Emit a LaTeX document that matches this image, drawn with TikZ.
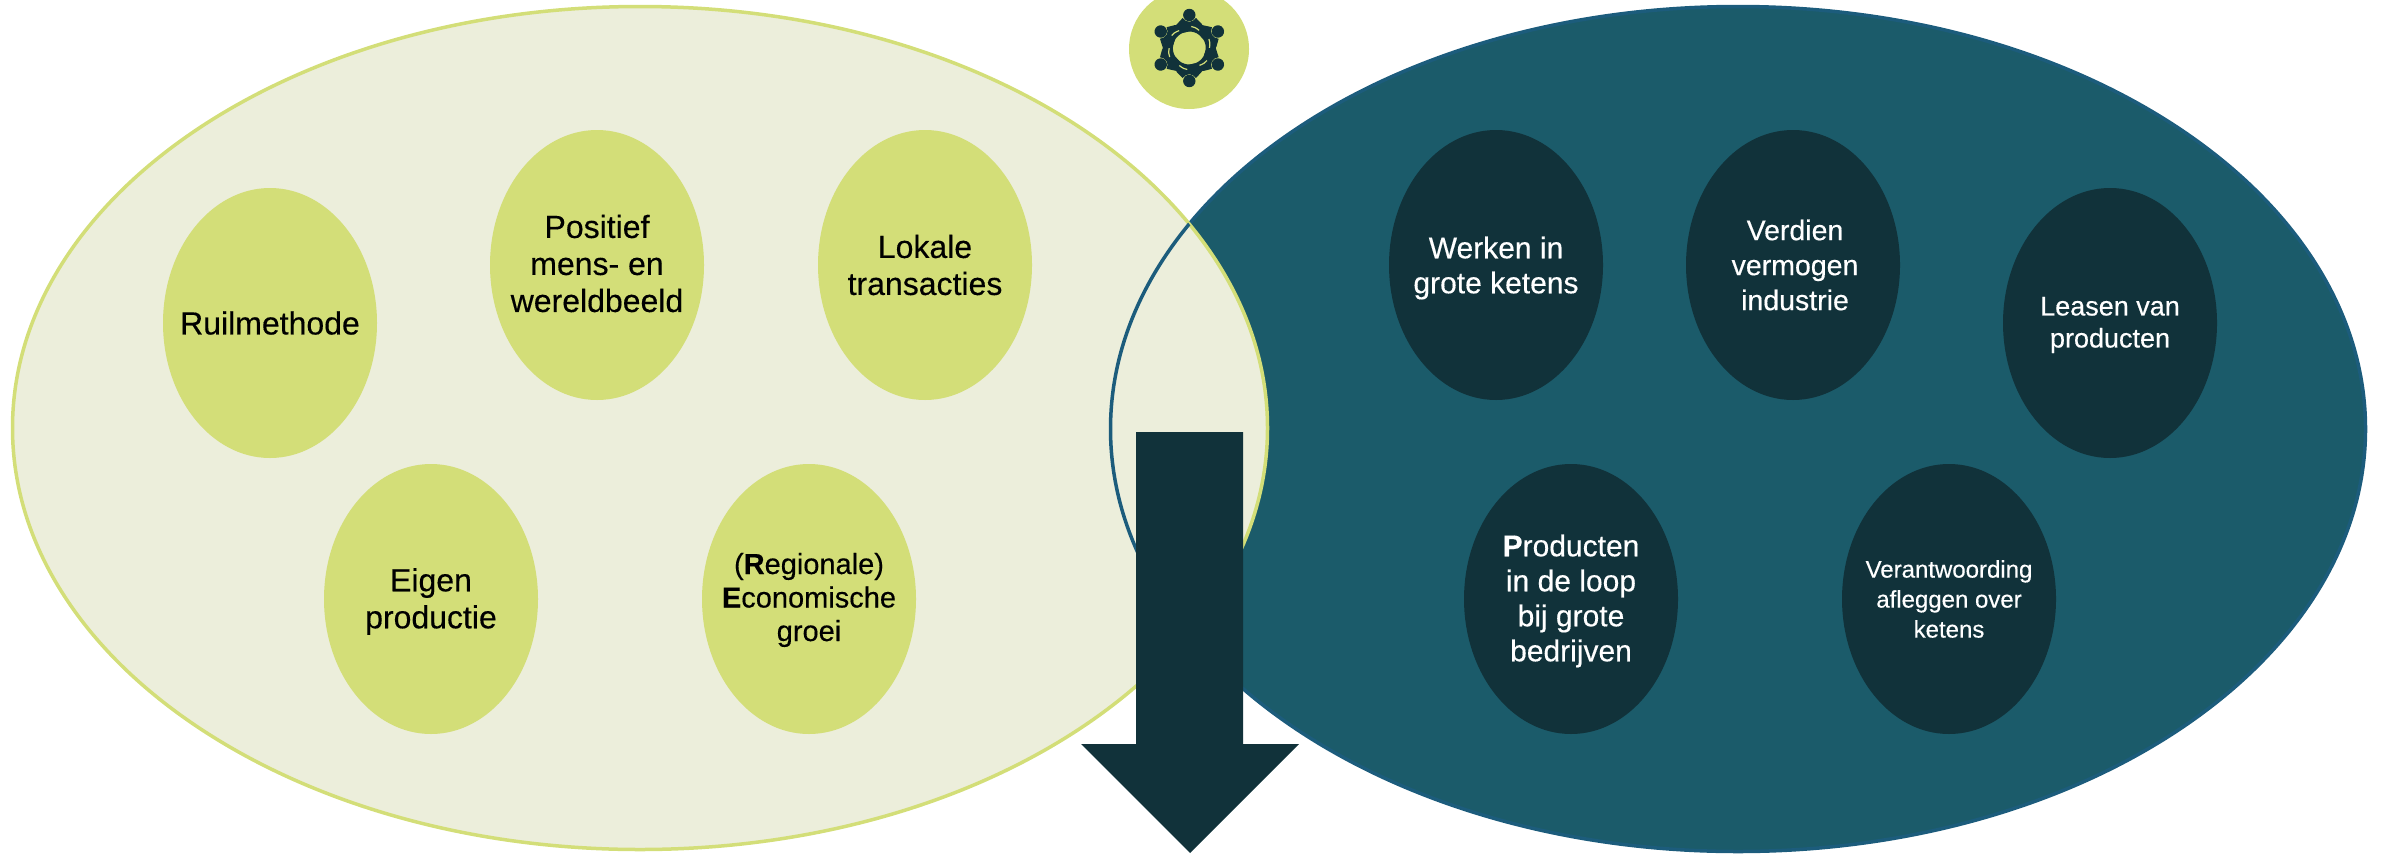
\documentclass[tikz,border=0pt]{standalone}
\usepackage{fontspec}
\setmainfont{Liberation Sans}
\newfontfamily\hvy{Liberation Sans}[FakeBold=0.35]
\definecolor{lime}{HTML}{D3DE78}
\definecolor{pale}{HTML}{ECEEDB}
\definecolor{teal}{HTML}{1B5B6A}
\definecolor{tealedge}{HTML}{1C5C7C}
\definecolor{deep}{HTML}{11323A}
\usetikzlibrary{shapes.geometric}
\tikzset{
  x=1pt,y=-1pt,
  bub/.style={ellipse,minimum width=214pt,minimum height=270pt,inner sep=0pt},
  limebub/.style={bub,fill=lime},
  deepbub/.style={bub,fill=deep},
  lbl/.style={align=center,inner sep=0pt},
  limelbl/.style={lbl,text=black},
  deeplbl/.style={lbl,text=white},
  t32/.style={font=\hvy\fontsize{32}{37}\selectfont},
  t30/.style={font=\hvy\fontsize{30}{35}\selectfont},
  t29/.style={font=\hvy\fontsize{29}{33.5}\selectfont},
  t28/.style={font=\hvy\fontsize{28.5}{35}\selectfont},
  t27/.style={font=\hvy\fontsize{27}{32}\selectfont},
  t24/.style={font=\hvy\fontsize{24}{30}\selectfont},
  big/.style={ellipse,inner sep=0pt,line width=3.5pt},
}
\begin{document}
\begin{tikzpicture}
\useasboundingbox (0,0) rectangle (2389,857);
\clip (0,0) rectangle (2389,857);
% large ellipses
\node[big,draw=tealedge,fill=teal,minimum width=1255pt,minimum height=845pt] (right) at (1738,429) {};
\node[big,draw=lime,fill=pale,minimum width=1255pt,minimum height=843pt] (left) at (640,428) {};
\begin{scope}
\clip (640,428) ellipse [x radius=627.5,y radius=421.5];
\node[big,draw=tealedge,minimum width=1255pt,minimum height=845pt] (rightline) at (1738,429) {};
\end{scope}
% emblem
\node[circle,fill=lime,minimum size=120pt,inner sep=0pt] (emblem) at (1189,49) {};
\foreach \a in {0,60,...,300}{
  \begin{scope}[shift={(1189.3,48)},rotate=\a]
    \fill[deep] (0,-33) circle (6.2);
    \fill[deep] (-6.7,-30) .. controls (-3,-25) and (3,-25) .. (6.7,-30)
      -- (12.3,-24.3) -- (18,-14) -- (15,-8) -- (10,-13)
      .. controls (7,-15.5) and (3,-16.5) .. (0,-16.5)
      -- (-8,-15) -- (-14,-22) -- cycle;
    \draw[lime,line width=1.2pt] (2,-21.5) .. controls (4,-21.5) and (7,-20) .. (10,-17.5);
  \end{scope}
}
% bubbles
\node[limebub] (a1) at (270,323) {};
\node[limebub] (a2) at (597,265) {};
\node[limebub] (a3) at (925,265) {};
\node[limebub] (a4) at (431,599) {};
\node[limebub] (a5) at (809,599) {};
\node[deepbub] (b1) at (1496,265) {};
\node[deepbub] (b2) at (1793,265) {};
\node[deepbub] (b3) at (2110,323) {};
\node[deepbub] (b4) at (1571,599) {};
\node[deepbub] (b5) at (1949,599) {};
% labels
\node[limelbl,t32] (a1t) at (a1) {Ruilmethode};
\node[limelbl,t32] (a2t) at ([yshift=1.5pt]a2) {Positief\\mens- en\\wereldbeeld};
\node[limelbl,t32] (a3t) at (a3) {Lokale\\transacties};
\node[limelbl,t32] (a4t) at ([yshift=-2.5pt]a4) {Eigen\\productie};
\node[limelbl,t29] (a5t) at ([yshift=-1pt]a5) {(\textbf{R}egionale)\\\textbf{E}conomische\\groei};
\node[deeplbl,t30] (b1t) at ([yshift=-3pt]b1) {Werken in\\grote ketens};
\node[deeplbl,t28] (b2t) at ([xshift=2pt]b2) {Verdien\\vermogen\\industrie};
\node[deeplbl,t27] (b3t) at ([yshift=-2pt]b3) {Leasen van\\producten};
\node[deeplbl,t30] (b4t) at ([yshift=-2pt]b4) {\textbf{P}roducten\\in de loop\\bij grote\\bedrijven};
\node[deeplbl,t24] (b5t) at (b5) {Verantwoording\\afleggen over\\ketens};
% arrow
\fill[deep] (1136,432) -- (1243,432) -- (1243,744) -- (1299,744) -- (1190,853) -- (1081,744) -- (1136,744) -- cycle;
\end{tikzpicture}
\end{document}
